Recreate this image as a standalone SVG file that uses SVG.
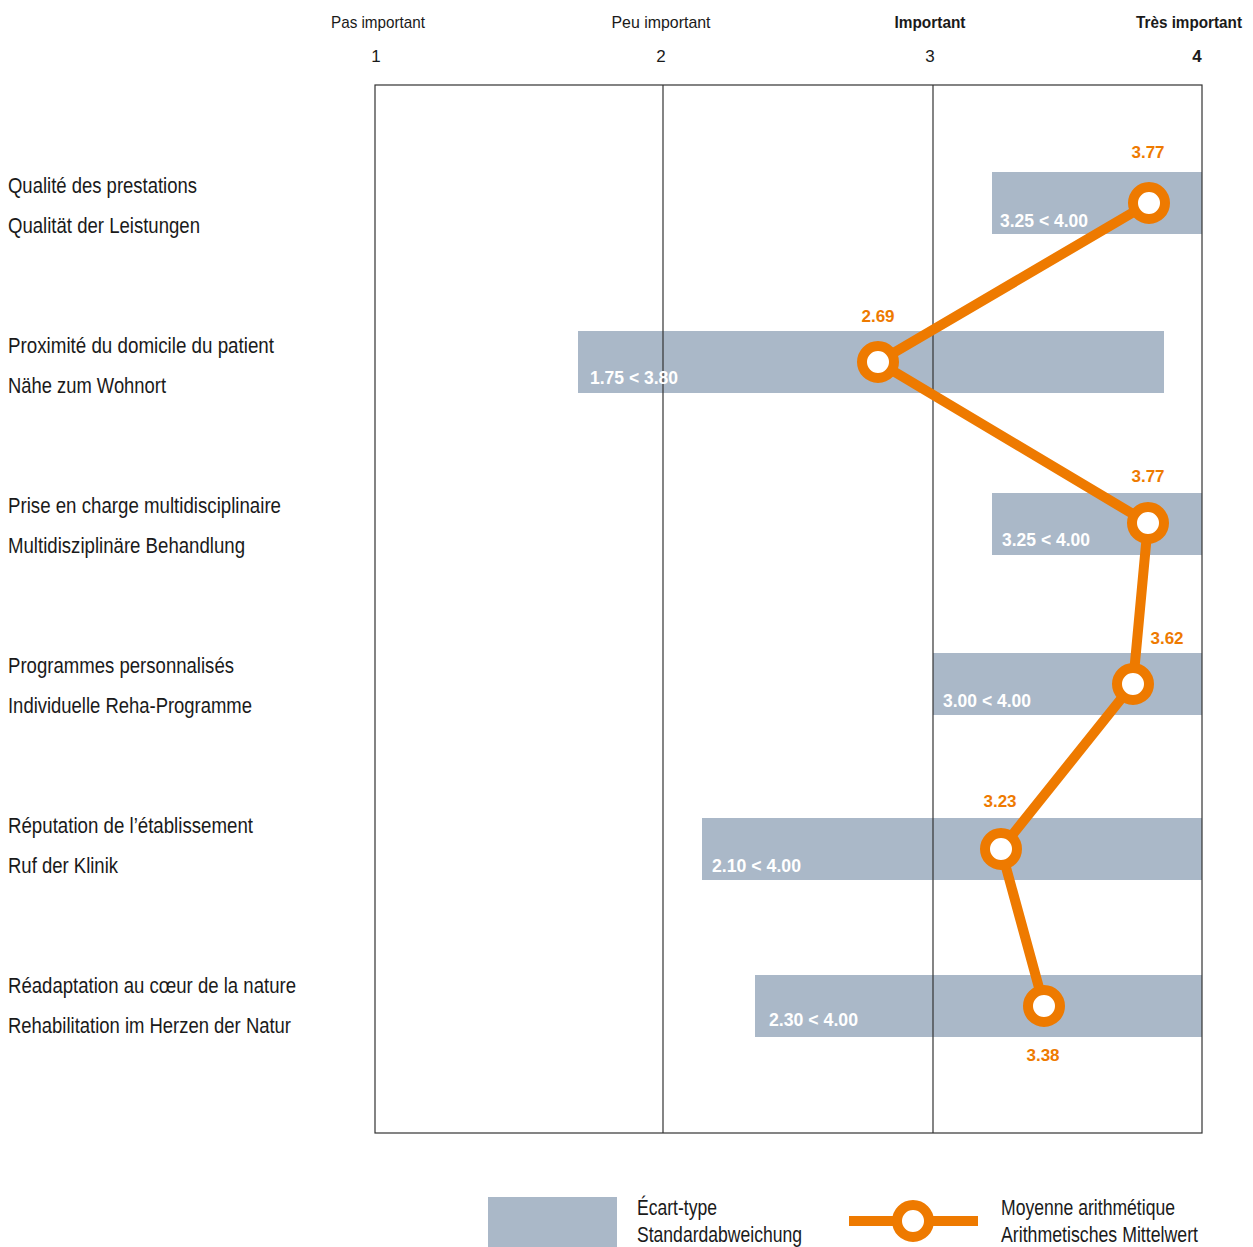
<svg xmlns="http://www.w3.org/2000/svg" width="1253" height="1247" viewBox="0 0 1253 1247">
<style>
text{font-family:"Liberation Sans",Arial,sans-serif;}
.hd{font-size:17px;fill:#1a1a1a;text-anchor:middle;}
.b{font-weight:bold;}
.lbl{font-size:22px;fill:#1a1a1a;}
.bar{fill:#aab8c8;}
.bt{font-size:18px;font-weight:bold;fill:#ffffff;}
.val{font-size:17px;font-weight:bold;fill:#ee7a00;text-anchor:middle;}
.grid{stroke:#333;stroke-width:1.2;fill:none;}
.mark{fill:#ffffff;stroke:#ee7a00;stroke-width:10;}
.conn{fill:none;stroke:#ee7a00;stroke-width:10;stroke-linejoin:round;}
</style>
<rect width="1253" height="1247" fill="#ffffff"/>
<g id="axis-header">
<text class="hd" x="378" y="28" textLength="94" lengthAdjust="spacingAndGlyphs">Pas important</text>
<text class="hd" x="661" y="28" textLength="99" lengthAdjust="spacingAndGlyphs">Peu important</text>
<text class="hd b" x="930" y="28" textLength="71" lengthAdjust="spacingAndGlyphs">Important</text>
<text class="hd b" x="1189" y="28" textLength="106" lengthAdjust="spacingAndGlyphs">Très important</text>
<text class="hd" x="376" y="62">1</text>
<text class="hd" x="661" y="62">2</text>
<text class="hd" x="930" y="62">3</text>
<text class="hd b" x="1197" y="62">4</text>
</g>
<g id="labels">
<text class="lbl" x="8" y="193" textLength="189" lengthAdjust="spacingAndGlyphs">Qualité des prestations</text>
<text class="lbl" x="8" y="233" textLength="192" lengthAdjust="spacingAndGlyphs">Qualität der Leistungen</text>
<text class="lbl" x="8" y="353" textLength="266" lengthAdjust="spacingAndGlyphs">Proximité du domicile du patient</text>
<text class="lbl" x="8" y="393" textLength="158" lengthAdjust="spacingAndGlyphs">Nähe zum Wohnort</text>
<text class="lbl" x="8" y="513" textLength="273" lengthAdjust="spacingAndGlyphs">Prise en charge multidisciplinaire</text>
<text class="lbl" x="8" y="553" textLength="237" lengthAdjust="spacingAndGlyphs">Multidisziplinäre Behandlung</text>
<text class="lbl" x="8" y="673" textLength="226" lengthAdjust="spacingAndGlyphs">Programmes personnalisés</text>
<text class="lbl" x="8" y="713" textLength="244" lengthAdjust="spacingAndGlyphs">Individuelle Reha-Programme</text>
<text class="lbl" x="8" y="833" textLength="245" lengthAdjust="spacingAndGlyphs">Réputation de l’établissement</text>
<text class="lbl" x="8" y="873" textLength="110" lengthAdjust="spacingAndGlyphs">Ruf der Klinik</text>
<text class="lbl" x="8" y="993" textLength="288" lengthAdjust="spacingAndGlyphs">Réadaptation au cœur de la nature</text>
<text class="lbl" x="8" y="1033" textLength="283" lengthAdjust="spacingAndGlyphs">Rehabilitation im Herzen der Natur</text>
</g>
<g id="bars">
<rect class="bar" x="992" y="172" width="210" height="62"/>
<rect class="bar" x="578" y="331" width="586" height="62"/>
<rect class="bar" x="992" y="493" width="210" height="62"/>
<rect class="bar" x="933" y="653" width="269" height="62"/>
<rect class="bar" x="702" y="818" width="500" height="62"/>
<rect class="bar" x="755" y="975" width="447" height="62"/>
</g>
<g id="grid">
<rect class="grid" x="375" y="85" width="827" height="1048"/>
<line class="grid" x1="663" y1="85" x2="663" y2="1133"/>
<line class="grid" x1="933" y1="85" x2="933" y2="1133"/>
</g>
<g id="bar-labels">
<text class="bt" x="1000" y="227" textLength="88" lengthAdjust="spacingAndGlyphs">3.25 &lt; 4.00</text>
<text class="bt" x="590" y="384" textLength="88" lengthAdjust="spacingAndGlyphs">1.75 &lt; 3.80</text>
<text class="bt" x="1002" y="546" textLength="88" lengthAdjust="spacingAndGlyphs">3.25 &lt; 4.00</text>
<text class="bt" x="943" y="707" textLength="88" lengthAdjust="spacingAndGlyphs">3.00 &lt; 4.00</text>
<text class="bt" x="712" y="872" textLength="89" lengthAdjust="spacingAndGlyphs">2.10 &lt; 4.00</text>
<text class="bt" x="769" y="1026" textLength="89" lengthAdjust="spacingAndGlyphs">2.30 &lt; 4.00</text>
</g>
<g id="connectors">
<polyline class="conn" points="1149,203 878,362 1148,523 1133,684 1001,849 1044,1006"/>
</g>
<g id="means">
<g id="m1"><circle class="mark" cx="1149" cy="203" r="16"/><text class="val" x="1148" y="158">3.77</text></g>
<g id="m2"><circle class="mark" cx="878" cy="362" r="16"/><text class="val" x="878" y="322">2.69</text></g>
<g id="m3"><circle class="mark" cx="1148" cy="523" r="16"/><text class="val" x="1148" y="482">3.77</text></g>
<g id="m4"><circle class="mark" cx="1133" cy="684" r="16"/><text class="val" x="1167" y="644">3.62</text></g>
<g id="m5"><circle class="mark" cx="1001" cy="849" r="16"/><text class="val" x="1000" y="807">3.23</text></g>
<g id="m6"><circle class="mark" cx="1044" cy="1006" r="16"/><text class="val" x="1043" y="1061">3.38</text></g>
</g>
<g id="legend">
<rect class="bar" x="488" y="1197" width="129" height="50"/>
<text class="lbl" x="637" y="1215" textLength="80" lengthAdjust="spacingAndGlyphs">Écart-type</text>
<text class="lbl" x="637" y="1242" textLength="165" lengthAdjust="spacingAndGlyphs">Standardabweichung</text>
<line x1="849" y1="1221" x2="978" y2="1221" stroke="#ee7a00" stroke-width="10"/>
<circle class="mark" cx="913" cy="1221" r="16"/>
<text class="lbl" x="1001" y="1215" textLength="174" lengthAdjust="spacingAndGlyphs">Moyenne arithmétique</text>
<text class="lbl" x="1001" y="1242" textLength="197" lengthAdjust="spacingAndGlyphs">Arithmetisches Mittelwert</text>
</g>
</svg>
